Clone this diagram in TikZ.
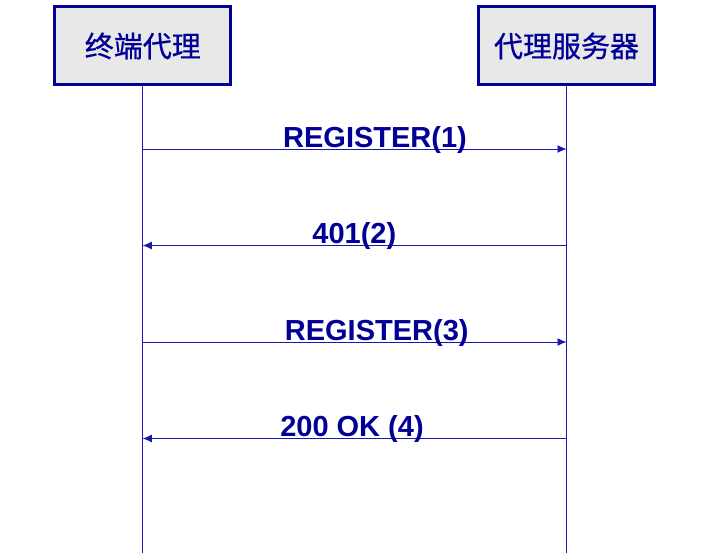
\documentclass[tikz,border=0pt]{standalone}
\usepackage{fontspec}
\setmainfont{Liberation Sans}
\newfontfamily\cjk[FakeBold=0.7]{Noto Sans CJK SC}
\usetikzlibrary{arrows.meta}
\definecolor{navy}{RGB}{0,0,150}
\definecolor{wire}{RGB}{25,25,175}
\definecolor{boxgray}{RGB}{232,232,232}

\begin{document}
\begin{tikzpicture}[x=1pt,y=-1pt,
  agent/.style={draw=navy, line width=3pt, fill=boxgray, minimum width=176pt,
    minimum height=78pt, inner sep=0pt, text=navy, font=\cjk\fontsize{29}{29}\selectfont},
  msg/.style={anchor=base, inner sep=0pt, text=navy, font=\bfseries\fontsize{29}{29}\selectfont},
  life/.style={draw=wire, line width=0.9pt},
  call/.style={draw=wire, line width=0.9pt, -{Latex[length=9pt,width=8pt]}}]

  \useasboundingbox (0,0) rectangle (723,553);

  % the two agents
  \node[agent] (ua) at (142.8,46) {终端代理};
  \node[agent] (proxy) at (566.5,46) {代理服务器};

  % life lines
  \coordinate (uaEnd) at (142.8,553);
  \coordinate (proxyEnd) at (566.5,553);
  \draw[life] (ua.south) -- (uaEnd);
  \draw[life] (proxy.south) -- (proxyEnd);

  % message ends
  \def\yA{149}\def\yB{245.5}\def\yC{342}\def\yD{438.5}
  \coordinate (u1) at (142.8,\yA); \coordinate (p1) at (566.5,\yA);
  \coordinate (u2) at (142.8,\yB); \coordinate (p2) at (566.5,\yB);
  \coordinate (u3) at (142.8,\yC); \coordinate (p3) at (566.5,\yC);
  \coordinate (u4) at (142.8,\yD); \coordinate (p4) at (566.5,\yD);

  % messages
  \draw[call] (u1) -- (p1);
  \draw[call] (p2) -- (u2);
  \draw[call] (u3) -- (p3);
  \draw[call] (p4) -- (u4);

  % labels
  \node[msg] (m1) at (375,147.3) {REGISTER(1)};
  \node[msg] (m2) at (354.3,243.3) {401(2)};
  \node[msg] (m3) at (376.7,340.7) {REGISTER(3)};
  \node[msg] (m4) at (352,436) {200 OK (4)};

\end{tikzpicture}
\end{document}
